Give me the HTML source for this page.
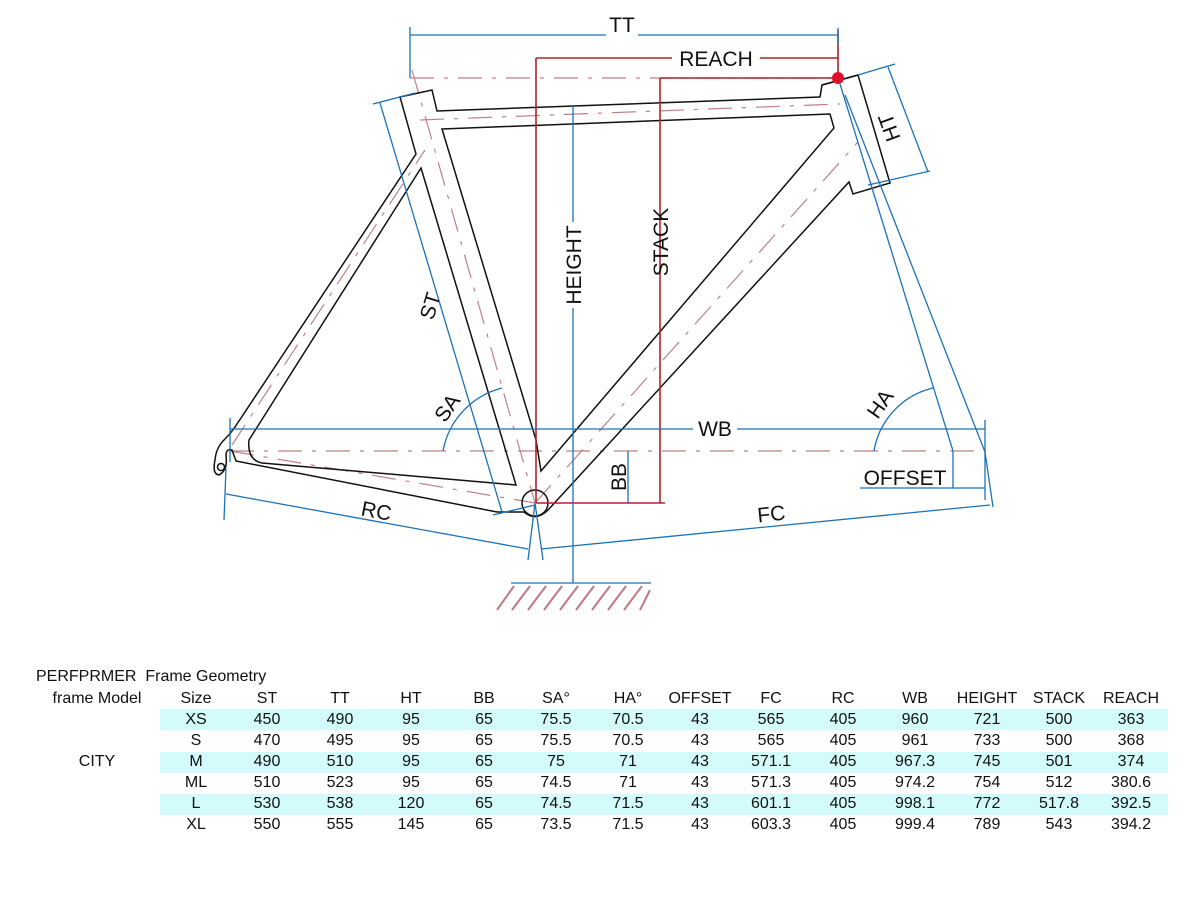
<!DOCTYPE html>
<html><head><meta charset="utf-8"><style>
body{margin:0;background:#fff;width:1200px;height:900px;overflow:hidden;position:relative;font-family:"Liberation Sans",sans-serif}
svg{position:absolute;left:0;top:0}
.t{position:absolute;font-size:16px;color:#111;white-space:nowrap}
.row{position:absolute;left:160px;width:1008px;height:21px;background:#d4fbfb}
.c{position:absolute;font-size:16px;color:#111;transform:translateX(-50%);white-space:nowrap}
</style></head><body>
<svg width="1200" height="640" viewBox="0 0 1200 640" font-family="Liberation Sans, sans-serif">
<g fill="none" stroke-width="1.4">
<g stroke="#c08088" stroke-dasharray="24,10,4,10" stroke-width="1.2">
<line x1="410" y1="78" x2="838" y2="78"/>
<line x1="230" y1="451" x2="985" y2="451"/>
<line x1="412" y1="70" x2="535" y2="503"/>
<line x1="420" y1="120" x2="840" y2="104"/>
<line x1="535" y1="503" x2="858" y2="142"/>
<line x1="230" y1="451" x2="535" y2="503"/>
<line x1="232" y1="445" x2="425" y2="150"/>
</g>
<g stroke="#111" stroke-width="1.5">
<path d="M400,97 L432,90 L437,111 L820,97 L822,85 L858,75 L890,183 L853,194 L849,182 L548,510 Q536,522 524,512 L497,512 L236,461 L232,450 Q226,448 226,456 Q228,470 219,475 Q212,474 215,460 Q216,448 224,440 Q232,432 237,424 L416,154 Z"/>
<path d="M442,129 L830,114 L834,128 L541,471 L536,440 Z"/>
<path d="M421,168 L516,485 L262,463 Q247,460 249,440 Z"/>
<line x1="858" y1="75" x2="822" y2="85"/>
<circle cx="535" cy="503" r="13"/>
<circle cx="221" cy="467" r="3.5"/>
</g>
<g stroke="#b3212c" stroke-width="1.6">
<line x1="536" y1="58" x2="536" y2="503"/>
<line x1="536" y1="503" x2="665" y2="503"/>
<line x1="660" y1="78" x2="660" y2="503"/>
<line x1="660" y1="78" x2="838" y2="78"/>
<line x1="536" y1="58" x2="672" y2="58"/>
<line x1="760" y1="58" x2="838" y2="58"/>
<line x1="838" y1="30" x2="838" y2="78"/>
</g>
<circle cx="838" cy="78" r="6" fill="#e0102a" stroke="none"/>
<g stroke="#1d72b8" stroke-width="1.3">
<line x1="410" y1="35" x2="606" y2="35"/><line x1="638" y1="35" x2="838" y2="35"/>
<line x1="410" y1="27" x2="410" y2="78"/><line x1="838" y1="28" x2="838" y2="45"/>
<line x1="573" y1="106" x2="573" y2="222"/><line x1="573" y1="308" x2="573" y2="583"/>
<line x1="511" y1="583" x2="651" y2="583"/>
<line x1="230" y1="429" x2="693" y2="429"/><line x1="737" y1="429" x2="985" y2="429"/>
<line x1="985" y1="420" x2="985" y2="500"/><line x1="230" y1="418" x2="230" y2="462"/>
<line x1="628" y1="451" x2="628" y2="503"/>
<line x1="953" y1="451" x2="953" y2="488"/><line x1="860" y1="488" x2="985" y2="488"/>
<line x1="840" y1="84" x2="953" y2="451"/>
<line x1="845" y1="95" x2="985" y2="452"/><line x1="985" y1="452" x2="993" y2="507"/>
<line x1="541" y1="549" x2="990" y2="505"/>
<line x1="226" y1="494" x2="528" y2="549"/>
<line x1="226" y1="468" x2="224" y2="520"/>
<line x1="535" y1="503" x2="528" y2="560"/><line x1="535" y1="503" x2="543" y2="560"/>
<line x1="380" y1="103" x2="502" y2="512"/>
<line x1="373" y1="104" x2="415" y2="93"/><line x1="493" y1="515" x2="535" y2="505"/>
<line x1="888" y1="67" x2="928" y2="172"/>
<line x1="858" y1="75" x2="895" y2="64"/><line x1="868" y1="185" x2="930" y2="171"/>
<path d="M443,451 A80,80 0 0 1 502,388"/>
<path d="M874,451 A78,78 0 0 1 933,388"/>
</g>
<g stroke="#c07a84" stroke-width="2">
<line x1="530" y1="586" x2="512" y2="610"/><line x1="546" y1="586" x2="528" y2="610"/><line x1="562" y1="586" x2="544" y2="610"/><line x1="578" y1="586" x2="560" y2="610"/><line x1="594" y1="586" x2="576" y2="610"/><line x1="610" y1="586" x2="592" y2="610"/><line x1="626" y1="586" x2="608" y2="610"/><line x1="642" y1="586" x2="624" y2="610"/><line x1="650" y1="590" x2="640" y2="610"/><line x1="514" y1="586" x2="497" y2="610"/>
</g>
</g>
<g fill="#111" font-size="21" text-anchor="middle">
<text x="622" y="32">TT</text>
<text x="716" y="66">REACH</text>
<text x="715" y="436">WB</text>
<text x="905" y="485">OFFSET</text>
<text transform="translate(581,265) rotate(-90)">HEIGHT</text>
<text transform="translate(668,242) rotate(-90)">STACK</text>
<text transform="translate(626,477) rotate(-90)">BB</text>
<text transform="translate(437,308) rotate(-73)">ST</text>
<text transform="translate(453,412) rotate(-55)">SA</text>
<text transform="translate(886,408) rotate(-55)">HA</text>
<text transform="translate(896,125) rotate(-110)">HT</text>
<text transform="translate(375,518) rotate(11)">RC</text>
<text transform="translate(772,521) rotate(-6)">FC</text>
</g>
</svg>
<div class="t" style="left:36px;top:668px">PERFPRMER&nbsp; Frame Geometry</div>
<div class="row" style="top:709px"></div>
<div class="row" style="top:752px"></div>
<div class="row" style="top:794px"></div>
<div class="c" style="left:97px;top:690px">frame Model</div>
<div class="c" style="left:97px;top:753px">CITY</div>
<div id="tbl"></div>
<script>
var cols=[196,267,340,411,484,556,628,700,771,843,915,987,1059,1131];
var rows=[["Size","ST","TT","HT","BB","SA°","HA°","OFFSET","FC","RC","WB","HEIGHT","STACK","REACH"],
["XS",450,490,95,65,75.5,70.5,43,565,405,960,721,500,363],
["S",470,495,95,65,75.5,70.5,43,565,405,961,733,500,368],
["M",490,510,95,65,75,71,43,571.1,405,967.3,745,501,374],
["ML",510,523,95,65,74.5,71,43,571.3,405,974.2,754,512,380.6],
["L",530,538,120,65,74.5,71.5,43,601.1,405,998.1,772,517.8,392.5],
["XL",550,555,145,65,73.5,71.5,43,603.3,405,999.4,789,543,394.2]];
var h="";rows.forEach(function(r,i){r.forEach(function(v,j){h+='<div class="c" style="left:'+cols[j]+'px;top:'+(690+i*21)+'px">'+v+'</div>';});});
document.getElementById("tbl").innerHTML=h;
</script>
</body></html>
